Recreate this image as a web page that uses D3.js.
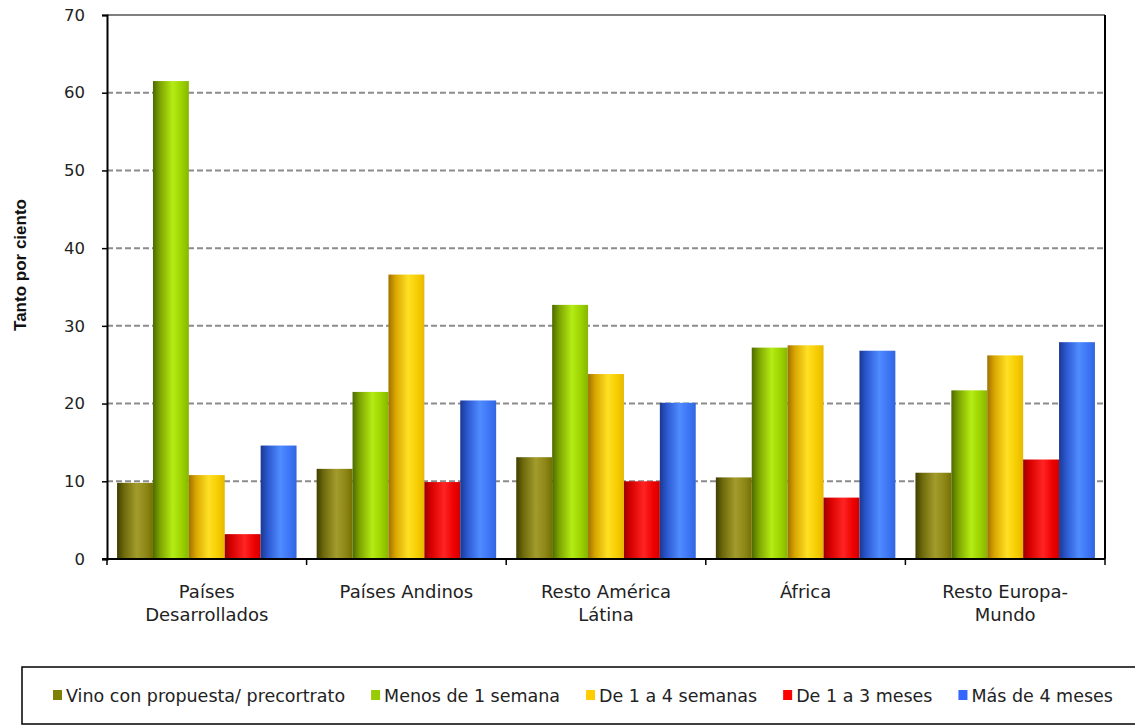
<!DOCTYPE html>
<html>
<head>
<meta charset="utf-8">
<script src="https://cdn.jsdelivr.net/npm/d3@7"></script>
<style>
  html, body { margin: 0; padding: 0; background: #ffffff; }
  svg { display: block; }
</style>
</head>
<body>
<svg id="chart" width="1135" height="727"></svg>
<script>
// Regions (x categories)
const categories = [
  ["Países", "Desarrollados"],
  ["Países Andinos"],
  ["Resto América", "Látina"],
  ["África"],
  ["Resto Europa-", "Mundo"]
];

// Time elapsed before finding work (series)
const seriesNames = [
  "Vino con propuesta/ precortrato",
  "Menos de 1 semana",
  "De 1 a 4 semanas",
  "De 1 a 3 meses",
  "Más de 4 meses"
];

// Percent values per series, one value per region
const vinoConPropuesta = [9.8, 11.6, 13.1, 10.5, 11.1];
const menosDe1Semana   = [61.5, 21.5, 32.7, 27.2, 21.7];
const de1a4Semanas     = [10.8, 36.6, 23.8, 27.5, 26.2];
const de1a3Meses       = [3.2, 9.9, 10.0, 7.9, 12.8];
const masDe4Meses      = [14.6, 20.4, 20.1, 26.8, 27.9];

const yTicks = [0, 10, 20, 30, 40, 50, 60, 70];

const seriesValues = [vinoConPropuesta, menosDe1Semana, de1a4Semanas, de1a3Meses, masDe4Meses];

// Base colours and cylinder shading (dark edge, bright middle, mid right edge)
const legendColors = ["#808000", "#99cc00", "#ffcc00", "#ff0000", "#3366ff"];
const shades = [
  ["#3f3e00", "#6f6b0c", "#a39c2c", "#8c8616", "#767000"],
  ["#4c6a00", "#7ea400", "#b4ec14", "#9ad000", "#86b600"],
  ["#a07000", "#d9a600", "#ffe024", "#f6cc00", "#e6b800"],
  ["#9a0000", "#d80000", "#ff2424", "#ee0000", "#d00000"],
  ["#1a3890", "#2c58d0", "#4f8cff", "#3c74f4", "#3266e0"]
];

const svg = d3.select("#chart");
const defs = svg.append("defs");

shades.forEach((s, i) => {
  const g = defs.append("linearGradient")
    .attr("id", "bar-grad-" + i)
    .attr("x1", "0%").attr("x2", "100%").attr("y1", "0%").attr("y2", "0%");
  const offs = [0, 0.2, 0.55, 0.82, 1];
  s.forEach((c, k) => g.append("stop").attr("offset", offs[k]).attr("stop-color", c));
});

const plot = { left: 107, right: 1105, top: 15, bottom: 559 };

const x0 = d3.scaleBand()
  .domain(d3.range(categories.length))
  .range([plot.left, plot.right])
  .padding(0);

const x1 = d3.scaleBand()
  .domain(d3.range(seriesNames.length))
  .range([0, x0.bandwidth()])
  .paddingOuter(0.28)
  .paddingInner(0);

const y = d3.scaleLinear().domain([0, 70]).range([plot.bottom, plot.top]);

// Dashed gridlines
svg.append("g")
  .selectAll("line")
  .data(yTicks.filter(t => t > 0 && t < 70))
  .join("line")
  .attr("x1", plot.left).attr("x2", plot.right)
  .attr("y1", d => y(d)).attr("y2", d => y(d))
  .attr("stroke", "#8c8c8c")
  .attr("stroke-width", 2)
  .attr("stroke-dasharray", "6,3");

// Top and right frame lines
svg.append("line")
  .attr("x1", plot.left).attr("x2", plot.right)
  .attr("y1", y(70)).attr("y2", y(70))
  .attr("stroke", "#555").attr("stroke-width", 1.5);
svg.append("line")
  .attr("x1", plot.right).attr("x2", plot.right)
  .attr("y1", y(70)).attr("y2", plot.bottom)
  .attr("stroke", "#000").attr("stroke-width", 2);

// Bars
const groups = svg.append("g")
  .selectAll("g")
  .data(categories.map((c, i) => i))
  .join("g")
  .attr("transform", i => `translate(${x0(i)},0)`);

groups.selectAll("rect")
  .data(i => seriesValues.map((vals, s) => ({ s, v: vals[i] })))
  .join("rect")
  .attr("x", d => x1(d.s))
  .attr("width", x1.bandwidth())
  .attr("y", d => y(d.v))
  .attr("height", d => y(0) - y(d.v))
  .attr("fill", d => `url(#bar-grad-${d.s})`);

// Y axis
const yAxis = svg.append("g")
  .attr("transform", `translate(${plot.left},0)`)
  .call(d3.axisLeft(y).tickValues(yTicks).tickSize(5).tickPadding(17));
yAxis.select(".domain").attr("stroke", "#000").attr("stroke-width", 2);
yAxis.selectAll(".tick line").attr("stroke", "#000").attr("stroke-width", 1.5);
yAxis.selectAll(".tick text")
  .attr("fill", "#222")
  .style("font-family", "'DejaVu Sans', sans-serif")
  .style("font-size", "16.5px");

// X axis (category boundary ticks)
const boundaries = d3.range(categories.length + 1).map(i =>
  i < categories.length ? x0(i) : x0(categories.length - 1) + x0.bandwidth());
svg.append("line")
  .attr("x1", plot.left - 5).attr("x2", plot.right)
  .attr("y1", plot.bottom).attr("y2", plot.bottom)
  .attr("stroke", "#000").attr("stroke-width", 2);
svg.append("g")
  .selectAll("line")
  .data(boundaries)
  .join("line")
  .attr("x1", d => d).attr("x2", d => d)
  .attr("y1", plot.bottom).attr("y2", plot.bottom + 6)
  .attr("stroke", "#000").attr("stroke-width", 1.5);

// Category labels
svg.append("g")
  .selectAll("text")
  .data(categories.map((lines, i) => ({ lines, i })))
  .join("text")
  .attr("text-anchor", "middle")
  .attr("fill", "#222")
  .style("font-family", "'DejaVu Sans', sans-serif")
  .style("font-size", "18px")
  .each(function (d) {
    const t = d3.select(this);
    d.lines.forEach((ln, k) => {
      t.append("tspan")
        .attr("x", x0(d.i) + x0.bandwidth() / 2)
        .attr("y", 598 + k * 23)
        .text(ln);
    });
  });

// Y axis title
svg.append("text")
  .attr("transform", `translate(26,${(plot.top + plot.bottom) / 2 - 22}) rotate(-90)`)
  .attr("text-anchor", "middle")
  .attr("fill", "#111")
  .style("font-family", "'Liberation Sans', Arial, sans-serif")
  .style("font-weight", "bold")
  .style("font-size", "17px")
  .text("Tanto por ciento");

// Legend box
svg.append("rect")
  .attr("x", 22).attr("y", 667)
  .attr("width", 1130).attr("height", 57)
  .attr("fill", "#fff")
  .attr("stroke", "#000").attr("stroke-width", 1.5);

const legend = svg.append("g");
let lx = 53;
seriesNames.forEach((name, i) => {
  legend.append("rect")
    .attr("x", lx).attr("y", 690)
    .attr("width", 9).attr("height", 10)
    .attr("fill", legendColors[i]);
  const txt = legend.append("text")
    .attr("x", lx + 13).attr("y", 702)
    .attr("fill", "#222")
    .style("font-family", "'DejaVu Sans', sans-serif")
    .style("font-size", "17.5px")
    .text(name);
  lx += 13 + txt.node().getComputedTextLength() + 26;
});
</script>
</body>
</html>
